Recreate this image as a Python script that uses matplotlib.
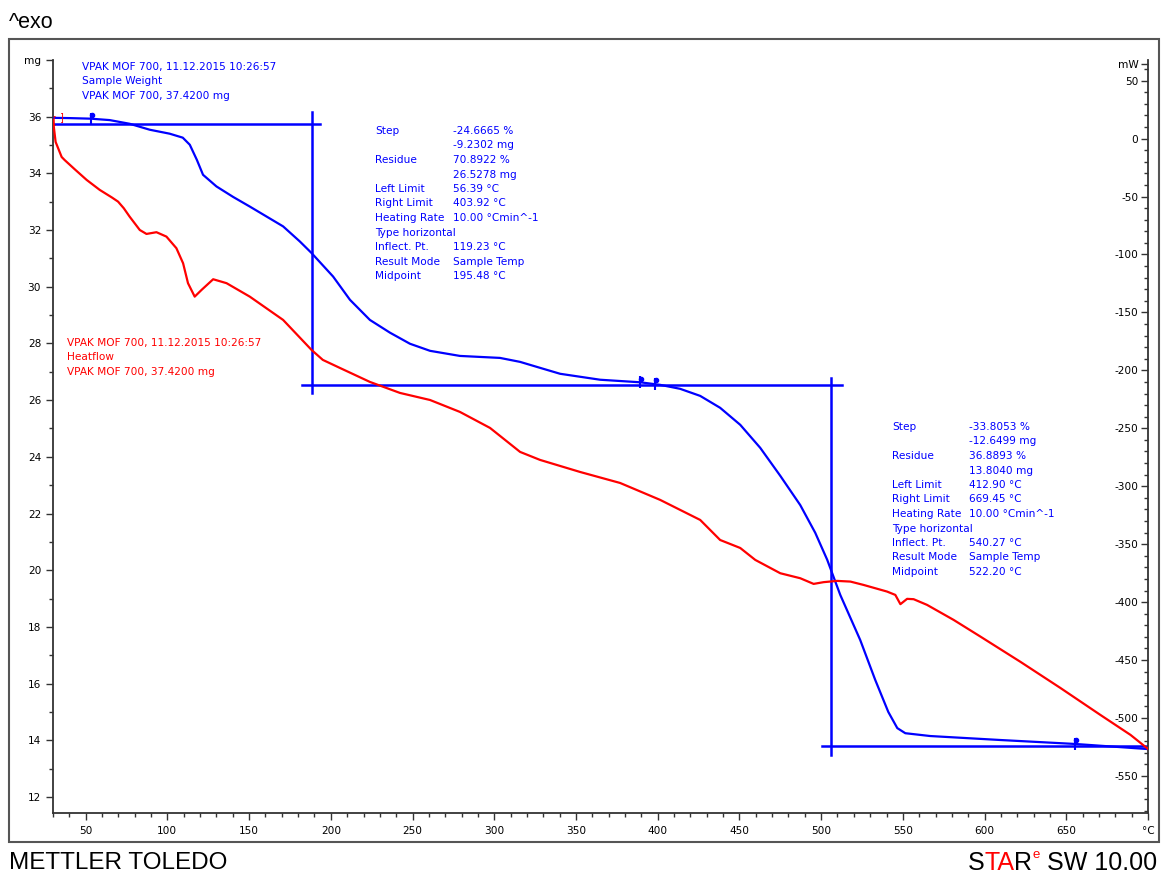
import matplotlib
matplotlib.use("Agg")
import matplotlib.pyplot as plt
from matplotlib.patches import Rectangle
from matplotlib.ticker import MultipleLocator, FixedLocator
import matplotlib.transforms as mtransforms

# TGA curve (sample weight, mg) vs temperature (degC)
tga_temp = [30.0, 40.2, 53.1, 64.7, 76.9, 89.2, 101.4, 109.4, 113.7, 118.0, 121.8, 130.0,
            140.2, 150.4, 160.6, 170.8, 181.0, 188.2, 201.4, 211.7, 223.9, 236.2, 248.4,
            260.7, 279.0, 303.5, 315.8, 328.0, 340.3, 364.8, 389.3, 401.5, 413.7, 426.0,
            438.2, 450.5, 462.7, 475.0, 487.2, 496.4, 503.7, 511.7, 523.9, 533.1, 541.1,
            546.6, 551.5, 566.8, 609.7, 655.6, 700.0]
tga_mass = [35.96, 35.95, 35.93, 35.88, 35.75, 35.54, 35.40, 35.26, 35.01, 34.48, 33.95, 33.54,
            33.17, 32.83, 32.48, 32.13, 31.60, 31.19, 30.36, 29.54, 28.83, 28.38, 27.99,
            27.74, 27.56, 27.49, 27.35, 27.14, 26.93, 26.72, 26.63, 26.54, 26.40, 26.15,
            25.73, 25.13, 24.32, 23.33, 22.30, 21.32, 20.37, 19.13, 17.54, 16.13, 15.00,
            14.43, 14.25, 14.15, 14.01, 13.87, 13.69]

# DSC curve (heat flow, mW) vs temperature (degC)
dsc_temp = [30.0, 31.6, 35.3, 37.1, 43.3, 50.6, 58.6, 66.0, 69.8, 73.3, 76.9, 83.1, 87.2,
            93.3, 99.4, 105.5, 109.6, 112.6, 116.7, 120.9, 128.0, 136.2, 150.4, 170.8,
            188.2, 195.1, 205.5, 223.9, 242.3, 260.7, 279.0, 297.4, 315.8, 328.0, 352.5,
            377.0, 401.5, 426.0, 438.2, 450.5, 459.7, 475.0, 487.2, 495.4, 501.5, 509.7,
            517.9, 526.0, 540.3, 545.4, 548.5, 552.6, 556.6, 564.8, 581.1, 597.5, 622.0,
            646.4, 670.9, 689.3, 700.0]
dsc_mw = [16.0, -2.9, -15.9, -18.5, -26.5, -35.7, -44.3, -50.8, -54.4, -60.1, -67.4, -78.9,
          -82.3, -80.8, -84.6, -94.6, -107.6, -124.8, -136.4, -130.6, -121.4, -124.8,
          -136.4, -156.5, -182.4, -191.0, -197.9, -210.0, -219.5, -225.6, -235.9, -249.7,
          -270.4, -277.3, -287.7, -297.2, -311.8, -329.1, -346.4, -353.3, -363.6, -375.1,
          -379.4, -384.3, -382.8, -381.7, -382.3, -385.2, -390.9, -393.8, -401.8, -397.2,
          -397.5, -402.4, -415.4, -429.8, -451.6, -474.1, -497.4, -514.6, -526.7]

# step evaluation construction lines (temperature, mg)
step1_top = 35.758
step1_x = 188.3
step1_res = 26.5278
step2_x = 506.2
step2_res = 13.804
limit_marks_t = [53.1, 389.3, 398.5, 655.6]
limit_marks_m = [35.93, 26.63, 26.57, 13.87]

step1_text = [("Step", "-24.6665 %"), ("", "-9.2302 mg"), ("Residue", "70.8922 %"),
              ("", "26.5278 mg"), ("Left Limit", "56.39 \u00b0C"), ("Right Limit", "403.92 \u00b0C"),
              ("Heating Rate", "10.00 \u00b0Cmin^-1"), ("Type horizontal", ""),
              ("Inflect. Pt.", "119.23 \u00b0C"), ("Result Mode", "Sample Temp"),
              ("Midpoint", "195.48 \u00b0C")]
step2_text = [("Step", "-33.8053 %"), ("", "-12.6499 mg"), ("Residue", "36.8893 %"),
              ("", "13.8040 mg"), ("Left Limit", "412.90 \u00b0C"), ("Right Limit", "669.45 \u00b0C"),
              ("Heating Rate", "10.00 \u00b0Cmin^-1"), ("Type horizontal", ""),
              ("Inflect. Pt.", "540.27 \u00b0C"), ("Result Mode", "Sample Temp"),
              ("Midpoint", "522.20 \u00b0C")]
blue_header = ["VPAK MOF 700, 11.12.2015 10:26:57", "Sample Weight", "VPAK MOF 700, 37.4200 mg"]
red_header = ["VPAK MOF 700, 11.12.2015 10:26:57", "Heatflow", "VPAK MOF 700, 37.4200 mg"]

W, H = 1161, 875
BLUE = "#0000ff"
RED = "#ff0000"
AX = "#333333"
SMALL = ['DejaVu Sans']
plt.rcParams['font.family'] = ['Liberation Sans', 'DejaVu Sans']

fig = plt.figure(figsize=(W / 100, H / 100), dpi=100)
fig.add_artist(Rectangle((9 / W, 1 - 842 / H), 1150 / W, 803 / H, transform=fig.transFigure,
                         fill=False, ec="#555555", lw=1.5))

ax = fig.add_axes([53 / W, 1 - 813 / H, 1095 / W, 753 / H])
ax2 = ax.twinx()

ax.plot(tga_temp, tga_mass, color=BLUE, lw=1.6, zorder=3, solid_joinstyle="round")
ax2.plot(dsc_temp, dsc_mw, color=RED, lw=1.6, zorder=3, solid_joinstyle="round")

# construction lines
ax.plot([30, 193.3], [step1_top, step1_top], color=BLUE, lw=1.8)
ax.plot([step1_x, step1_x], [36.18, 26.26], color=BLUE, lw=1.8)
ax.plot([182.3, 512.9], [step1_res, step1_res], color=BLUE, lw=1.8)
ax.plot([step2_x, step2_x], [26.79, 13.48], color=BLUE, lw=1.8)
ax.plot([500.7, 700], [step2_res, step2_res], color=BLUE, lw=1.8)

# limit flags
ax.plot(limit_marks_t, limit_marks_m, ls="none", marker="|", ms=8, mew=1.5, color=BLUE)
flag = mtransforms.offset_copy(ax.transData, fig=fig, x=1.0, y=3.5, units="dots")
ax.plot(limit_marks_t, limit_marks_m, ls="none", marker="o", ms=3, color=BLUE, transform=flag)

# red start brackets
ax.text(30.4, 35.85, "[", color=RED, fontsize=7, ha="center", va="center")
ax.text(35.8, 35.95, "]", color=RED, fontsize=7, ha="center", va="center")

ax.set_xlim(30, 700)
ax.set_ylim(11.435, 38)
ax2.set_ylim(-582, 67.8)

for a in (ax, ax2):
    for s in a.spines.values():
        s.set_color(AX)
        s.set_linewidth(1.3)
    a.spines["top"].set_visible(False)
    a.tick_params(which="both", colors=AX, labelcolor="black", labelsize=7.6, width=1)
    a.tick_params(which="major", length=5)
    a.tick_params(which="minor", length=3)

ax.tick_params(which="both", direction="out")
ax2.tick_params(which="both", direction="in")
ax.spines["right"].set_visible(False)
ax2.spines["left"].set_visible(False)
ax2.spines["bottom"].set_visible(False)

xt = [50, 100, 150, 200, 250, 300, 350, 400, 450, 500, 550, 600, 650, 700]
ax.xaxis.set_major_locator(FixedLocator(xt))
ax.set_xticklabels([str(v) for v in xt[:-1]] + ["\u00b0C"], family=SMALL)
ax.xaxis.set_minor_locator(MultipleLocator(10))
ax.tick_params(axis="x", pad=4)

yt = [12, 14, 16, 18, 20, 22, 24, 26, 28, 30, 32, 34, 36, 38]
ax.yaxis.set_major_locator(FixedLocator(yt))
ax.set_yticklabels([str(v) for v in yt[:-1]] + ["mg"], family=SMALL)
ax.yaxis.set_minor_locator(MultipleLocator(1))

rt = [-550, -500, -450, -400, -350, -300, -250, -200, -150, -100, -50, 0, 50, 64.4]
ax2.yaxis.set_major_locator(FixedLocator(rt))
ax2.set_yticklabels([str(v) for v in rt[:-1]] + ["mW"], family=SMALL, ha="right")
ax2.yaxis.set_minor_locator(MultipleLocator(10))
ax2.tick_params(axis="y", pad=-7)


def px(x, y):
    return x / W, 1 - y / H


tk = dict(fontsize=7.6, va="center", family=SMALL)
for i, s in enumerate(blue_header):
    fig.text(*px(82, 67 + 14.5 * i), s, color=BLUE, **tk)
for i, s in enumerate(red_header):
    fig.text(*px(67, 343 + 14.5 * i), s, color=RED, **tk)
for i, (k, v) in enumerate(step1_text):
    fig.text(*px(375, 131 + 14.5 * i), k, color=BLUE, **tk)
    fig.text(*px(453, 131 + 14.5 * i), v, color=BLUE, **tk)
for i, (k, v) in enumerate(step2_text):
    fig.text(*px(892, 427 + 14.5 * i), k, color=BLUE, **tk)
    fig.text(*px(969, 427 + 14.5 * i), v, color=BLUE, **tk)

fig.text(*px(9, 22), "^exo", fontsize=15.5, color="black", va="center")
fig.text(*px(9, 863), "METTLER TOLEDO", fontsize=17.5, color="black", va="center")

# STARe SW 10.00, built right to left
r = fig.canvas.get_renderer()
pieces = [(" SW 10.00", "black", 18, 0), ("e", RED, 9.5, 8), ("R", "black", 18, 0),
          ("TA", RED, 18, 0), ("S", "black", 18, 0)]
xr = 1157
for s, c, fs, dy in pieces:
    t = fig.text(*px(xr, 863 - dy), s, color=c, fontsize=fs, ha="right", va="center")
    bb = t.get_window_extent(renderer=r)
    xr = bb.x0

fig.savefig("out.png", dpi=100)
